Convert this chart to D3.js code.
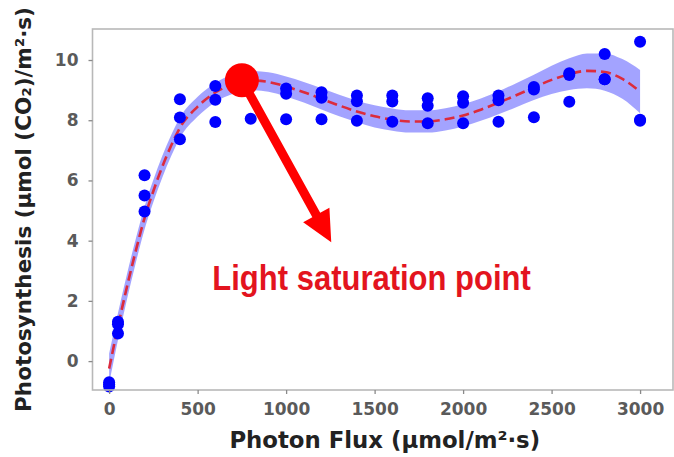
<!DOCTYPE html>
<html>
<head>
<meta charset="utf-8">
<script src="https://cdn.jsdelivr.net/npm/d3@7"></script>
<style>
  html, body { margin: 0; padding: 0; background: #ffffff; }
  svg { display: block; }
</style>
</head>
<body>
<svg id="chart" width="674" height="457"></svg>
<script>
// Measured photosynthesis rates (replicates at each photon flux level)
const fluxLevels = [0, 50, 200, 400, 600, 800, 1000, 1200, 1400, 1600, 1800, 2000, 2200, 2400, 2600, 2800, 3000];
const rateReplicates = [
  [-0.70, -0.78, -0.84],
  [1.31, 1.22, 0.92],
  [6.17, 5.50, 4.97],
  [8.70, 8.09, 7.37],
  [9.14, 8.68, 7.94],
  [9.35, 9.22, 8.05],
  [9.05, 8.88, 8.03],
  [8.93, 8.75, 8.03],
  [8.82, 8.63, 7.98],
  [8.82, 8.62, 7.95],
  [8.73, 8.48, 7.90],
  [8.80, 8.58, 7.90],
  [8.82, 8.66, 7.95],
  [9.10, 9.02, 8.10],
  [9.56, 9.50, 8.61],
  [10.20, 9.36, 9.36],
  [10.61, 7.98, 8.02]
];

// Fitted response curve and its confidence half-width
const fitX  = [0, 50, 100, 150, 200, 250, 300, 350, 400, 500, 600, 700, 800, 900, 1000, 1100, 1200, 1300, 1400, 1500, 1600, 1700, 1800, 1900, 2000, 2100, 2200, 2300, 2400, 2500, 2600, 2700, 2800, 2900, 3000];
const fitY  = [-0.25, 1.15, 2.45, 3.65, 4.75, 5.65, 6.45, 7.15, 7.75, 8.45, 8.92, 9.20, 9.32, 9.27, 9.12, 8.93, 8.71, 8.49, 8.29, 8.13, 8.02, 7.96, 7.96, 8.03, 8.16, 8.35, 8.58, 8.83, 9.09, 9.34, 9.53, 9.64, 9.60, 9.37, 8.95];
const fitCI = [0.50, 0.45, 0.42, 0.40, 0.38, 0.37, 0.36, 0.35, 0.34, 0.33, 0.32, 0.32, 0.32, 0.32, 0.33, 0.34, 0.35, 0.36, 0.36, 0.37, 0.37, 0.37, 0.37, 0.37, 0.37, 0.37, 0.38, 0.40, 0.42, 0.47, 0.53, 0.58, 0.62, 0.66, 0.72];

// Annotation: saturation point and arrow target
const saturationPoint = { x: 750, y: 9.33 };
const arrowTarget = { x: 1255, y: 3.95 };
const annotationText = "Light saturation point";
const annotationAnchor = { x: 583, y: 2.35 };

const xTicks = [0, 500, 1000, 1500, 2000, 2500, 3000];
const yTicks = [0, 2, 4, 6, 8, 10];
const xLabel = "Photon Flux (μmol/m²·s)";
const yLabel = "Photosynthesis (μmol (CO₂)/m²·s)";

const svg = d3.select("#chart");
const plot = { left: 92.5, right: 673, top: 29, bottom: 390 };

const x = d3.scaleLinear().domain([-94, 3186]).range([plot.left, plot.right]);
const y = d3.scaleLinear().domain([-0.96, 11.03]).range([plot.bottom, plot.top]);

svg.append("rect").attr("width", 674).attr("height", 457).attr("fill", "#ffffff");

// Confidence band
const fitRows = fitX.map((v, i) => ({ x: v, y: fitY[i], ci: fitCI[i] }));
svg.append("path")
  .datum(fitRows)
  .attr("fill", "#0000ff")
  .attr("fill-opacity", 0.36)
  .attr("d", d3.area()
    .x(d => x(d.x))
    .y0(d => y(d.y - d.ci))
    .y1(d => y(d.y + d.ci))
    .curve(d3.curveMonotoneX));

// Fitted curve
svg.append("path")
  .datum(fitRows)
  .attr("fill", "none")
  .attr("stroke", "#dc2b3c")
  .attr("stroke-width", 2.6)
  .attr("stroke-dasharray", "10,5")
  .attr("d", d3.line()
    .x(d => x(d.x))
    .y(d => y(d.y))
    .curve(d3.curveMonotoneX));

// Measured points
const points = [];
fluxLevels.forEach((f, i) => rateReplicates[i].forEach(v => points.push({ x: f, y: v })));
svg.append("g")
  .selectAll("circle")
  .data(points)
  .join("circle")
  .attr("cx", d => x(d.x))
  .attr("cy", d => y(d.y))
  .attr("r", 6)
  .attr("fill", "#0000ff");

// Axes frame
const spine = "#b8b8b8";
svg.append("rect")
  .attr("x", plot.left).attr("y", plot.top)
  .attr("width", plot.right - plot.left)
  .attr("height", plot.bottom - plot.top)
  .attr("fill", "none")
  .attr("stroke", spine)
  .attr("stroke-width", 1.6);

const tickFont = "DejaVu Sans, Verdana, sans-serif";

const xAxis = svg.append("g")
  .attr("transform", `translate(0,${plot.bottom})`)
  .call(d3.axisBottom(x).tickValues(xTicks).tickSize(4).tickPadding(9).tickFormat(d3.format("d")));
const yAxis = svg.append("g")
  .attr("transform", `translate(${plot.left},0)`)
  .call(d3.axisLeft(y).tickValues(yTicks).tickSize(4).tickPadding(10).tickFormat(d3.format("d")));

[xAxis, yAxis].forEach(g => {
  g.select(".domain").remove();
  g.selectAll(".tick line").attr("stroke", "#8a8a8a").attr("stroke-width", 1.3);
  g.selectAll(".tick text")
    .attr("fill", "#5a5a5a")
    .attr("font-family", tickFont)
    .attr("font-weight", "bold")
    .attr("font-size", 17);
});

// Axis titles
svg.append("text")
  .attr("x", (plot.left + plot.right) / 2 + 2)
  .attr("y", 448)
  .attr("text-anchor", "middle")
  .attr("font-family", tickFont)
  .attr("font-weight", "bold")
  .attr("font-size", 22.8)
  .attr("fill", "#222222")
  .text(xLabel);

svg.append("text")
  .attr("transform", `translate(31,${(plot.top + plot.bottom) / 2}) rotate(-90)`)
  .attr("text-anchor", "middle")
  .attr("font-family", tickFont)
  .attr("font-weight", "bold")
  .attr("font-size", 21.5)
  .attr("fill", "#222222")
  .text(yLabel);

// Saturation marker
svg.append("circle")
  .attr("cx", x(saturationPoint.x))
  .attr("cy", y(saturationPoint.y))
  .attr("r", 17)
  .attr("fill", "#ff0000");

// Arrow from the saturation point
(function drawArrow() {
  const x0 = x(saturationPoint.x), y0 = y(saturationPoint.y);
  const x1 = x(arrowTarget.x), y1 = y(arrowTarget.y);
  const len = Math.hypot(x1 - x0, y1 - y0);
  const ux = (x1 - x0) / len, uy = (y1 - y0) / len;
  const nx = -uy, ny = ux;
  const shaftHalf = 4.5, headHalf = 15, headLen = 31;
  const bx = x1 - ux * headLen, by = y1 - uy * headLen;
  const pts = [
    [x0 + nx * shaftHalf, y0 + ny * shaftHalf],
    [bx + nx * shaftHalf, by + ny * shaftHalf],
    [bx + nx * headHalf, by + ny * headHalf],
    [x1, y1],
    [bx - nx * headHalf, by - ny * headHalf],
    [bx - nx * shaftHalf, by - ny * shaftHalf],
    [x0 - nx * shaftHalf, y0 - ny * shaftHalf]
  ];
  svg.append("path")
    .attr("d", "M" + pts.map(p => p.join(",")).join("L") + "Z")
    .attr("fill", "#ff0000");
})();

// Annotation label
const ax = x(annotationAnchor.x), ay = y(annotationAnchor.y);
svg.append("text")
  .attr("transform", `translate(${ax},${ay}) scale(1,1.12)`)
  .attr("font-family", "Liberation Sans, Arial, sans-serif")
  .attr("font-weight", "bold")
  .attr("font-size", 31)
  .attr("fill", "#e3141e")
  .text(annotationText);
</script>
</body>
</html>
